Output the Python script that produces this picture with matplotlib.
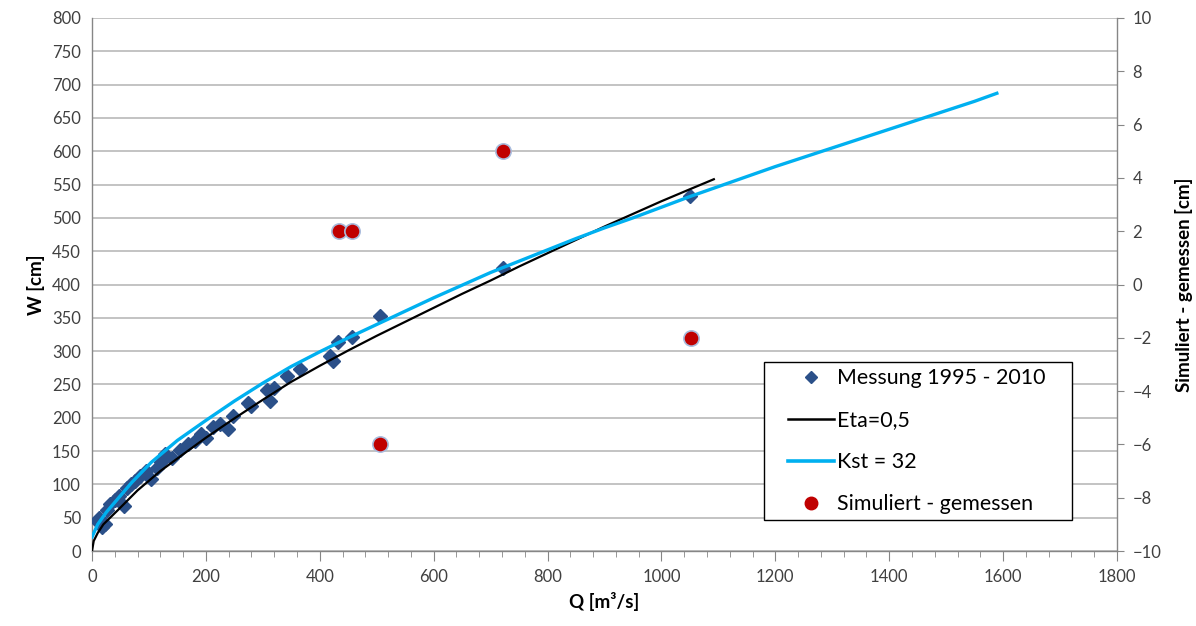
import matplotlib
matplotlib.use("Agg")
import matplotlib.pyplot as plt
from matplotlib.lines import Line2D
from matplotlib.patches import Rectangle
from matplotlib.ticker import MultipleLocator

plt.rcParams['font.family'] = ['Lato', 'DejaVu Sans']

# Measurements 1995 - 2010 (Q [m3/s], W [cm])
meas_q = [8, 13, 18, 22, 27, 32, 40, 48, 57, 61, 68, 75, 84, 95, 104, 115, 122, 128,
          140, 155, 168, 180, 192, 200, 212, 225, 238, 247, 274, 280, 307, 313, 320,
          342, 365, 418, 423, 432, 456, 505, 722, 1050]
meas_w = [45, 50, 36, 40, 62, 70, 77, 82, 68, 95, 100, 105, 113, 120, 108, 125, 133, 145,
          140, 152, 160, 165, 175, 170, 186, 190, 183, 203, 222, 218, 242, 225, 245,
          263, 273, 293, 285, 313, 321, 352, 425, 533]

# Eta = 0,5 curve
eta_q = [0, 3, 10, 20, 45, 80, 120, 163, 200, 250, 300, 350, 400, 450, 500, 550, 600,
         650, 700, 750, 800, 850, 900, 950, 1000, 1050, 1092]
eta_w = [0, 15, 27, 40, 61, 91, 120, 147, 170, 199, 227, 254, 278, 301, 323, 344, 365,
         386, 406, 427, 447, 467, 487, 506, 525, 543, 558]

# Kst = 32 curve
kst_q = [0, 10, 25, 45, 70, 104, 150, 200, 250, 300, 350, 400, 450, 500, 550, 600,
         650, 700, 750, 800, 850, 900, 950, 1000, 1050, 1100, 1150, 1200, 1250, 1300,
         1350, 1400, 1450, 1500, 1550, 1589]
kst_w = [21, 40, 58, 78, 103, 133, 166, 196, 225, 252, 277, 299, 320, 340, 360, 380,
         399, 418, 435, 452, 469, 485, 500, 516, 532, 547, 562, 577, 591, 605,
         619, 633, 647, 661, 675, 687]

# Simuliert - gemessen [cm]
diff_q = [433, 456, 506, 722, 1052]
diff_v = [2, 2, -6, 5, -2]

fig = plt.figure(figsize=(11.96, 6.26), dpi=100)
ax = fig.add_axes([92/1196, 1-551/626, (1117-92)/1196, (551-18)/626])
ax2 = ax.twinx()

grid_c = '#BEBEBE'
axis_c = '#868686'
text_c = '#404040'

ax.set_xlim(0, 1800)
ax.set_ylim(0, 800)
ax.xaxis.set_major_locator(MultipleLocator(200))
ax.xaxis.set_minor_locator(MultipleLocator(40))
ax.yaxis.set_major_locator(MultipleLocator(50))
ax.grid(axis='y', color=grid_c, linewidth=1.3)
ax.set_axisbelow(True)

ax.plot(meas_q, meas_w, linestyle='none', marker='D', markersize=7.5,
        color='#2B5089', markeredgecolor='#2B5089', zorder=3)
ax.plot(eta_q, eta_w, color='black', linewidth=1.6, zorder=4)
ax.plot(kst_q, kst_w, color='#00B0F0', linewidth=2.4, zorder=5)

ax2.set_ylim(-10, 10)
ax2.yaxis.set_major_locator(MultipleLocator(2))
ax2.plot(diff_q, diff_v, linestyle='none', marker='o', markersize=11,
         color='#C00000', markeredgecolor='#A9BCDD', markeredgewidth=1.2, zorder=6)

for a in (ax, ax2):
    a.spines['top'].set_visible(False)
    for s in ('left', 'right', 'bottom'):
        a.spines[s].set_color(axis_c)
        a.spines[s].set_linewidth(1.0)
ax.spines['right'].set_visible(False)
ax2.spines['left'].set_visible(False)
ax2.spines['bottom'].set_visible(False)

ax.tick_params(axis='y', length=0, labelsize=12, colors=text_c, pad=8)
ax.tick_params(axis='x', which='major', length=7, color=axis_c, labelsize=12,
               labelcolor=text_c, pad=6)
ax.tick_params(axis='x', which='minor', length=4, color=axis_c)
ax2.tick_params(axis='y', length=5, color=axis_c, labelsize=12, labelcolor=text_c, pad=6)

ax.set_xlabel('Q [m³/s]', fontsize=13.5, fontweight='bold', labelpad=5)
ax.set_ylabel('W [cm]', fontsize=13.5, fontweight='bold', labelpad=5)
ax2.set_ylabel('Simuliert - gemessen [cm]', fontsize=13.5, fontweight='bold', labelpad=10)

# legend frame
frame = Rectangle(((764-92)/1025, (551-520)/533), (1072-764)/1025, (520-362)/533,
                  transform=ax2.transAxes, facecolor='white', edgecolor='black',
                  linewidth=1.0, zorder=9, clip_on=False)
ax2.add_patch(frame)

handles = [
    Line2D([], [], linestyle='none', marker='D', markersize=6.5, color='#2B5089'),
    Line2D([], [], color='black', linewidth=1.8),
    Line2D([], [], color='#00B0F0', linewidth=2.6),
    Line2D([], [], linestyle='none', marker='o', markersize=9, color='#C00000'),
]
labels = ['Messung 1995 - 2010', 'Eta=0,5', 'Kst = 32', 'Simuliert - gemessen']
leg = ax2.legend(handles, labels, loc='upper left',
                 bbox_to_anchor=((788-92)/1025, (551-368)/533),
                 fontsize=15.4, frameon=False, handlelength=2.15, handletextpad=0.12,
                 labelspacing=1.03, borderpad=0, borderaxespad=0)
leg.set_zorder(10)

fig.savefig('out.png', dpi=100)
